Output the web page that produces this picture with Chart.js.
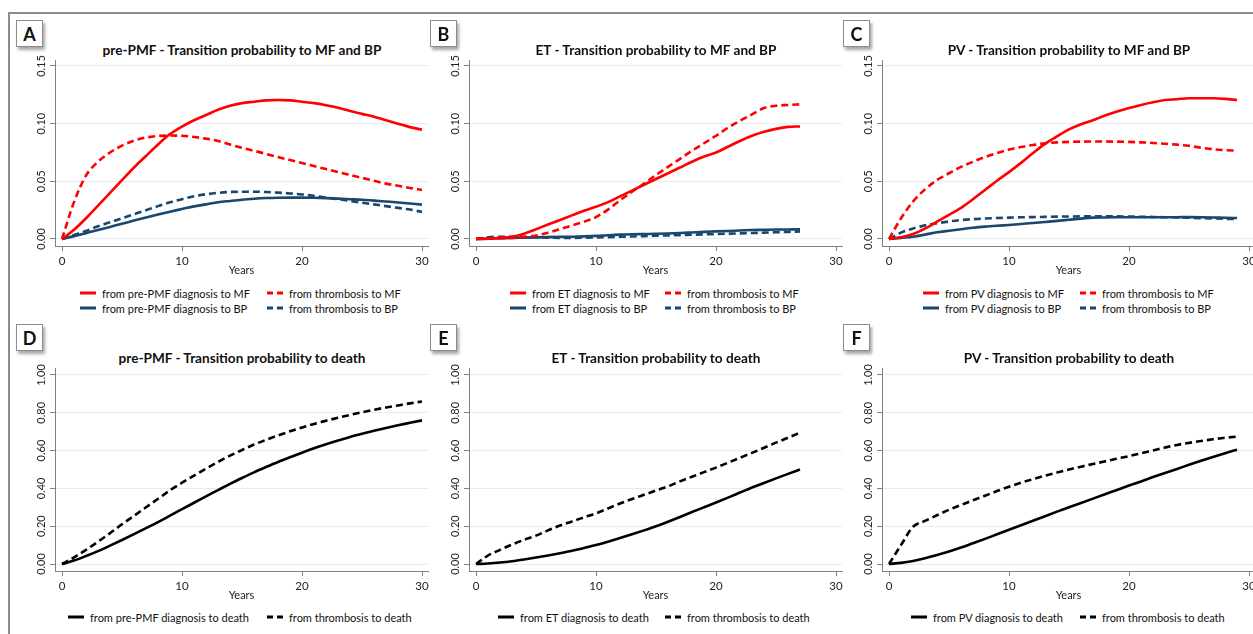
<!DOCTYPE html>
<html>
<head>
<meta charset="utf-8">
<script src="https://cdn.jsdelivr.net/npm/chart.js@4.4.1/dist/chart.umd.min.js"></script>
<style>
  body { margin: 0; background: #fff; width: 1253px; height: 634px; overflow: hidden; position: relative; font-family: Lato, "Open Sans", sans-serif; color: #111; }
  .frame { position: absolute; left: 8px; top: 12px; width: 1270px; height: 650px; border: 2px solid #8c8c8c; box-sizing: border-box; }
  .tag { position: absolute; width: 27px; height: 27px; box-sizing: border-box; border: 1px solid #8c8c8c; background: #fff; box-shadow: 2px 3px 3px rgba(0,0,0,.35); font: bold 18px Lato, sans-serif; display: flex; align-items: center; justify-content: center; }
  .title { position: absolute; font: bold 13.6px Lato, sans-serif; transform: translate(-50%, -50%); white-space: nowrap; }
  .leg { position: absolute; font: 11px Lato, sans-serif; white-space: nowrap; transform: translateY(-50%); display: flex; align-items: center; }
  .sw { width: 16px; height: 3px; margin-right: 6px; }
  canvas { position: absolute; }
</style>
</head>
<body>
<div class="frame"></div>
<script>
// years on the x axis (each panel's curves stop at a different follow-up)
const yearsA = [0,1,2,3,4,5,6,7,8,9,10,11,12,13,14,15,16,17,18,19,20,21,22,23,24,25,26,27,28,29,30];
const yearsB = [0,1,2,3,4,5,6,7,8,9,10,11,12,13,14,15,16,17,18,19,20,21,22,23,24,25,26,27];
const yearsC = [0,1,2,3,4,5,6,7,8,9,10,11,12,13,14,15,16,17,18,19,20,21,22,23,24,25,26,27,28,29];

const xTicks = [0, 10, 20, 30];
const yTicksTop = [0, 0.05, 0.1, 0.15];
const yTicksBottom = [0, 0.2, 0.4, 0.6, 0.8, 1.0];

// A: pre-PMF -> MF / BP
const pmfDxMF = [0,0.008,0.018,0.029,0.040,0.051,0.062,0.072,0.082,0.091,0.0975,0.103,0.1075,0.112,0.1155,0.1178,0.119,0.1202,0.1205,0.1202,0.119,0.1178,0.116,0.1138,0.111,0.1085,0.106,0.103,0.100,0.097,0.0948];
const pmfThrMF = [0,0.032,0.055,0.067,0.075,0.081,0.0852,0.088,0.0893,0.0897,0.0895,0.0885,0.087,0.085,0.082,0.079,0.0765,0.0738,0.071,0.0685,0.0658,0.0632,0.0606,0.058,0.0555,0.053,0.0505,0.048,0.0462,0.0443,0.0425];
const pmfDxBP = [0,0.0025,0.005,0.0078,0.0105,0.0132,0.016,0.0187,0.0213,0.0237,0.026,0.0283,0.030,0.0318,0.033,0.0341,0.0349,0.0355,0.0358,0.0359,0.0359,0.0357,0.0354,0.035,0.0345,0.034,0.0333,0.0325,0.0317,0.0308,0.0298];
const pmfThrBP = [0,0.0035,0.007,0.011,0.0145,0.018,0.0215,0.025,0.0285,0.0318,0.0345,0.037,0.0388,0.040,0.0408,0.041,0.041,0.0407,0.0402,0.0395,0.0386,0.0374,0.036,0.0345,0.033,0.0315,0.030,0.0285,0.027,0.0255,0.0235];

// B: ET -> MF / BP
const etDxMF = [0,0.0003,0.001,0.002,0.0045,0.0085,0.0125,0.0165,0.0205,0.0245,0.028,0.032,0.037,0.042,0.047,0.052,0.057,0.062,0.067,0.0715,0.075,0.080,0.085,0.0895,0.093,0.0955,0.0972,0.0976];
const etThrMF = [0,0.0003,0.0006,0.001,0.0017,0.003,0.0055,0.0085,0.0117,0.015,0.019,0.0255,0.0335,0.041,0.048,0.0555,0.0625,0.0695,0.0765,0.083,0.0895,0.0965,0.1025,0.108,0.1135,0.1155,0.1162,0.1168];
const etDxBP = [0,0.0003,0.0006,0.001,0.0012,0.0014,0.0016,0.0018,0.002,0.0023,0.0027,0.0033,0.0038,0.0041,0.0043,0.0045,0.0048,0.0052,0.0057,0.0062,0.0066,0.007,0.0074,0.0078,0.008,0.0082,0.0083,0.0084];
const etThrBP = [0,0.0015,0.002,0.002,0.0018,0.0015,0.0012,0.001,0.001,0.0011,0.0013,0.0016,0.0019,0.0022,0.0025,0.0028,0.0031,0.0034,0.0037,0.004,0.0043,0.0046,0.0049,0.0052,0.0055,0.0058,0.0062,0.0066];

// C: PV -> MF / BP
const pvDxMF = [0,0.0015,0.0043,0.009,0.015,0.021,0.027,0.0345,0.0425,0.0505,0.058,0.066,0.0745,0.0825,0.089,0.095,0.0995,0.103,0.107,0.1105,0.1135,0.1162,0.1185,0.1205,0.1212,0.122,0.122,0.122,0.1215,0.1205];
const pvThrMF = [0,0.018,0.0324,0.043,0.0512,0.057,0.0625,0.067,0.071,0.0745,0.0775,0.0798,0.0815,0.083,0.0838,0.0842,0.0844,0.0845,0.0845,0.0844,0.0842,0.0838,0.0833,0.0826,0.0818,0.0808,0.0792,0.0778,0.077,0.0766];
const pvDxBP = [0,0.001,0.002,0.0038,0.0058,0.0072,0.0085,0.0097,0.0107,0.0115,0.0122,0.013,0.0139,0.0148,0.0157,0.0167,0.0177,0.0185,0.0187,0.0188,0.0188,0.0188,0.0188,0.0188,0.0189,0.019,0.0189,0.0187,0.0184,0.0182];
const pvThrBP = [0,0.0055,0.0092,0.0118,0.0136,0.0152,0.0164,0.0172,0.0178,0.0182,0.0185,0.0188,0.019,0.0192,0.0194,0.0195,0.0196,0.0197,0.0197,0.0196,0.0195,0.0193,0.0191,0.0189,0.0187,0.0184,0.0181,0.0178,0.0175,0.0172];

// D-F: death
const pmfDxDeath = [0,0.018,0.042,0.068,0.097,0.127,0.158,0.19,0.222,0.256,0.29,0.324,0.358,0.391,0.424,0.455,0.485,0.513,0.54,0.565,0.589,0.612,0.633,0.653,0.672,0.689,0.705,0.72,0.734,0.747,0.76];
const pmfThrDeath = [0,0.035,0.075,0.118,0.163,0.21,0.255,0.3,0.345,0.39,0.43,0.468,0.505,0.54,0.573,0.603,0.632,0.657,0.68,0.702,0.722,0.741,0.758,0.774,0.789,0.803,0.816,0.828,0.839,0.85,0.86];
const etDxDeath = [0,0.003,0.008,0.015,0.024,0.034,0.045,0.057,0.07,0.085,0.10,0.118,0.137,0.157,0.178,0.2,0.224,0.249,0.275,0.3,0.325,0.351,0.378,0.405,0.429,0.453,0.477,0.50];
const etThrDeath = [0,0.045,0.075,0.103,0.128,0.15,0.178,0.204,0.225,0.247,0.268,0.294,0.32,0.344,0.366,0.389,0.411,0.437,0.462,0.486,0.51,0.536,0.562,0.588,0.615,0.642,0.668,0.695];
const pvDxDeath = [0,0.006,0.016,0.03,0.047,0.066,0.087,0.11,0.133,0.157,0.181,0.205,0.229,0.253,0.277,0.3,0.323,0.346,0.369,0.392,0.415,0.437,0.46,0.482,0.503,0.525,0.546,0.566,0.586,0.605];
const pvThrDeath = [0,0.1,0.197,0.228,0.258,0.287,0.312,0.337,0.361,0.386,0.409,0.43,0.449,0.467,0.484,0.5,0.515,0.529,0.543,0.557,0.571,0.586,0.601,0.616,0.63,0.641,0.651,0.66,0.668,0.674];

const RED = "#ff0000", NAVY = "#1a476f", BLACK = "#000000";
const AXIS = "#808080", GRID = "#e4eef0", TXT = "#222";
const YW = 34, PT = 14, PR = 14, XH = 31; // fixed axis sizes / paddings in px

const top1 = { top: 60, bottom: 246, min: -0.00607, max: 0.1552, ticks: yTicksTop };
const top2 = { top: 368, bottom: 571, min: -0.037, max: 1.037, ticks: yTicksBottom };

const panels = [
  { tag: "A", x0: 62, row: top1, years: yearsA, title: "pre-PMF - Transition probability to MF and BP",
    series: [
      { v: pmfDxMF, c: RED, dash: false, label: "from pre-PMF diagnosis to MF" },
      { v: pmfThrMF, c: RED, dash: true, label: "from thrombosis to MF" },
      { v: pmfDxBP, c: NAVY, dash: false, label: "from pre-PMF diagnosis to BP" },
      { v: pmfThrBP, c: NAVY, dash: true, label: "from thrombosis to BP" } ],
    legX: [80, 267] },
  { tag: "B", x0: 476, row: top1, years: yearsB, title: "ET - Transition probability to MF and BP",
    series: [
      { v: etDxMF, c: RED, dash: false, label: "from ET diagnosis to MF" },
      { v: etThrMF, c: RED, dash: true, label: "from thrombosis to MF" },
      { v: etDxBP, c: NAVY, dash: false, label: "from ET diagnosis to BP" },
      { v: etThrBP, c: NAVY, dash: true, label: "from thrombosis to BP" } ],
    legX: [510, 665] },
  { tag: "C", x0: 889, row: top1, years: yearsC, title: "PV - Transition probability to MF and BP",
    series: [
      { v: pvDxMF, c: RED, dash: false, label: "from PV diagnosis to MF" },
      { v: pvThrMF, c: RED, dash: true, label: "from thrombosis to MF" },
      { v: pvDxBP, c: NAVY, dash: false, label: "from PV diagnosis to BP" },
      { v: pvThrBP, c: NAVY, dash: true, label: "from thrombosis to BP" } ],
    legX: [923, 1080] },
  { tag: "D", x0: 62, row: top2, years: yearsA, title: "pre-PMF - Transition probability to death",
    series: [
      { v: pmfDxDeath, c: BLACK, dash: false, label: "from pre-PMF diagnosis to death" },
      { v: pmfThrDeath, c: BLACK, dash: true, label: "from thrombosis to death" } ],
    legX: [68, 267] },
  { tag: "E", x0: 476, row: top2, years: yearsB, title: "ET - Transition probability to death",
    series: [
      { v: etDxDeath, c: BLACK, dash: false, label: "from ET diagnosis to death" },
      { v: etThrDeath, c: BLACK, dash: true, label: "from thrombosis to death" } ],
    legX: [498, 665] },
  { tag: "F", x0: 889, row: top2, years: yearsC, title: "PV - Transition probability to death",
    series: [
      { v: pvDxDeath, c: BLACK, dash: false, label: "from PV diagnosis to death" },
      { v: pvThrDeath, c: BLACK, dash: true, label: "from thrombosis to death" } ],
    legX: [911, 1080] },
];

const font = (size) => ({ family: "Lato", size });

function addDiv(cls, x, y, html) {
  const d = document.createElement("div");
  d.className = cls;
  d.style.left = x + "px";
  d.style.top = y + "px";
  d.innerHTML = html;
  document.body.appendChild(d);
  return d;
}

function swatch(s) {
  const bg = s.dash
    ? `repeating-linear-gradient(90deg, ${s.c} 0 6px, transparent 6px 10px)`
    : s.c;
  return `<span class="sw" style="background:${bg}"></span>${s.label}`;
}

function drawPanel(p) {
  const r = p.row;
  const tagY = r.top === 60 ? 20 : 324;
  const titleY = r.top === 60 ? 50 : 358;
  addDiv("tag", p.x0 - 46, tagY, p.tag);
  addDiv("title", p.x0 + 180, titleY, p.title);

  // legend: two columns, series in pairs (solid / dashed)
  const legY = r.top === 60 ? [293, 308] : [617];
  p.series.forEach((s, i) => {
    addDiv("leg", p.legX[i % 2], legY[Math.floor(i / 2)], swatch(s));
  });

  const c = document.createElement("canvas");
  c.width = YW + 373 + PR;
  c.height = PT + (r.bottom - r.top) + XH;
  c.style.left = p.x0 - 7 - YW + "px";
  c.style.top = r.top - PT + "px";
  document.body.appendChild(c);

  new Chart(c, {
    type: "line",
    data: {
      datasets: p.series.map((s) => ({
        label: s.label,
        data: p.years.map((x, i) => ({ x, y: s.v[i] })),
        borderColor: s.c,
        borderWidth: 2.6,
        borderDash: s.dash ? [7, 4] : [],
        pointRadius: 0,
        fill: false,
        cubicInterpolationMode: "monotone",
      })),
    },
    options: {
      responsive: false,
      animation: false,
      layout: { padding: { top: PT, right: PR, left: 0, bottom: 0 } },
      plugins: { legend: { display: false }, title: { display: false }, tooltip: { enabled: false } },
      scales: {
        x: {
          type: "linear",
          min: -7 / 12,
          max: 30.5,
          afterBuildTicks: (s) => { s.ticks = xTicks.map((v) => ({ value: v })); },
          afterFit: (s) => { s.height = XH; },
          grid: { drawOnChartArea: false, drawTicks: true, tickLength: 5, tickColor: AXIS },
          border: { display: true, color: AXIS, width: 1 },
          ticks: { font: font(11.5), color: TXT, padding: 3, maxRotation: 0, autoSkip: false },
          title: { display: true, text: "Years", font: font(11), color: TXT, padding: { top: 0, bottom: 0 } },
        },
        y: {
          min: r.min,
          max: r.max,
          afterBuildTicks: (s) => { s.ticks = r.ticks.map((v) => ({ value: v })); },
          afterFit: (s) => { s.width = YW; },
          grid: { color: GRID, lineWidth: 1, drawTicks: true, tickLength: 5, tickColor: AXIS },
          border: { display: true, color: AXIS, width: 1 },
          ticks: {
            font: font(11), color: TXT, minRotation: 90, maxRotation: 90,
            crossAlign: "center", padding: -2, autoSkip: false,
            callback: (v) => Number(v).toFixed(2),
          },
        },
      },
    },
  });
}

panels.forEach(drawPanel);
</script>
</body>
</html>
